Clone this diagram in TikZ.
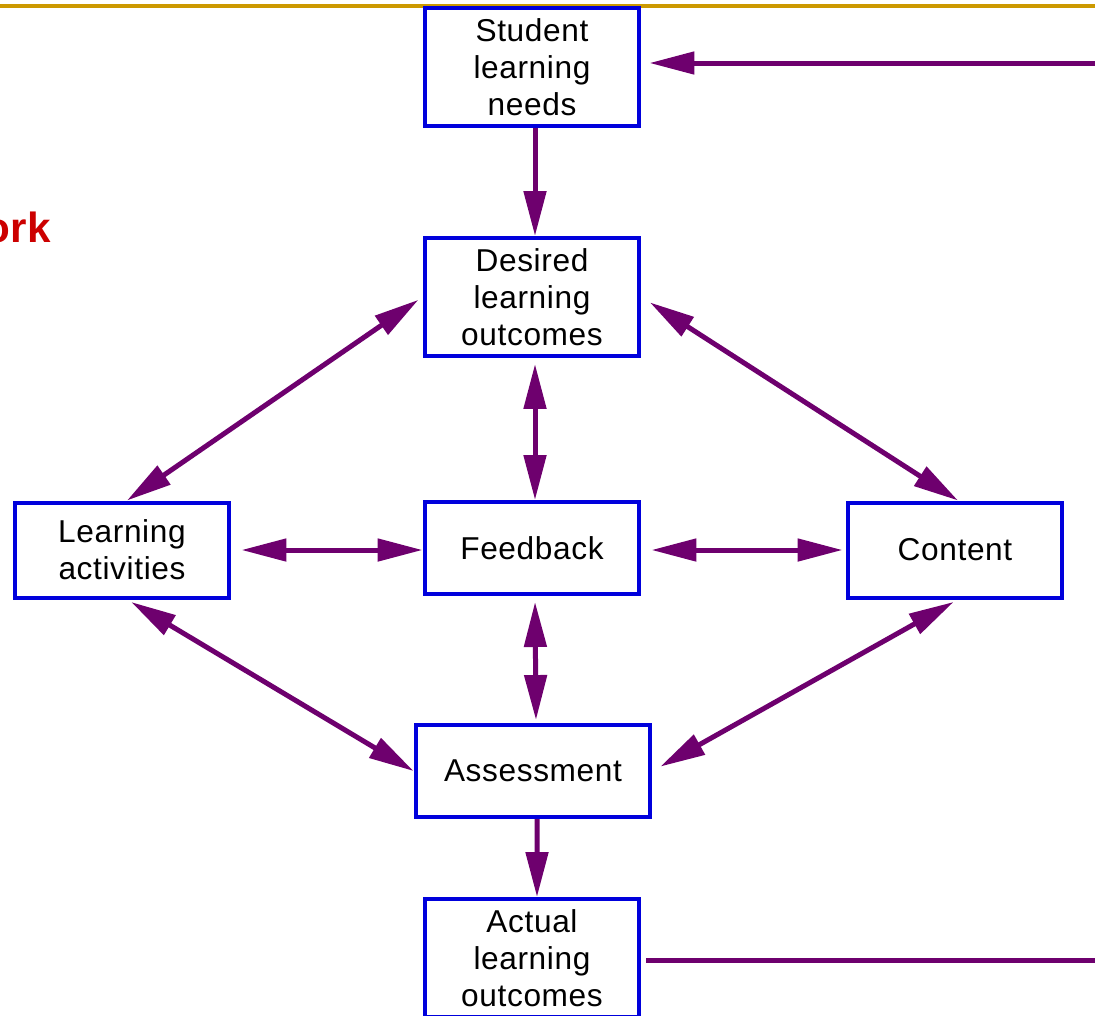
\documentclass[tikz,border=0pt]{standalone}
\usepackage{fontspec}
\setmainfont{Liberation Sans}
\newfontfamily\boxfont[LetterSpace=2]{Liberation Sans}
\usetikzlibrary{arrows.meta}
\definecolor{boxblue}{RGB}{0,0,220}
\definecolor{arrowpurple}{RGB}{110,0,110}
\definecolor{rulegold}{RGB}{204,153,0}
\definecolor{titlered}{RGB}{204,0,0}

\begin{document}
\begin{tikzpicture}[
    x=0.02cm, y=-0.02cm, % one unit is one pixel of the slide
    >={Triangle[length=0.9cm, width=0.44cm]}, % Arrow tip style
    line width=0.1cm, arrowpurple, % Line thickness and colour for arrows
    box/.style={draw=boxblue, line width=0.08cm, fill=white, text=black,
        align=center, inner sep=0pt, minimum width=4.3cm, minimum height=2.36cm,
        font=\boxfont\fontsize{18}{21}\selectfont}
]
\useasboundingbox (0,0) rectangle (1095,1015);

% Slide decoration
\draw[rulegold, line width=0.08cm] (0,6) -- (1095,6);
\node[anchor=base east, inner sep=0pt, text=titlered,
    font=\bfseries\fontsize{24}{28}\selectfont] (T) at (53,242) {ork};

% Define the nodes
\node[box] (S) at (532, 67) {Student\\learning\\needs};
\node[box] (D) at (532, 297) {Desired\\learning\\outcomes};
\node[box, minimum height=1.9cm] (L) at (122, 550) {Learning\\activities};
\node[box, minimum height=1.84cm] (F) at (532, 548) {Feedback};
\node[box, minimum height=1.9cm] (C) at (955, 550) {Content};
\node[box, minimum width=4.7cm, minimum height=1.84cm] (A) at (533, 771) {Assessment};
\node[box] (O) at (532, 958) {Actual\\learning\\outcomes};
\coordinate (inS) at (1095, 63);
\coordinate (outO) at (1095, 960);

% Define the connections
\draw (inS) edge[->, shorten >=0.16cm] (S.east |- inS);
\draw ([xshift=0.06cm]S.south) edge[->] ([xshift=0.06cm]D.north);
\draw (D.west) edge[<->, shorten <=0.1cm] ([xshift=0.1cm]L.north);
\draw ([xshift=0.06cm]D.south) edge[<->, shorten <=0.12cm] ([xshift=0.06cm]F.north);
\draw (D.east) edge[<->, shorten <=0.2cm] ([xshift=0.06cm]C.north);
\draw (L.east) edge[<->, shorten <=0.2cm] (F.west |- L.east);
\draw (F.east |- C.west) edge[<->, shorten <=0.2cm, shorten >=0.06cm] (C.west);
\draw ([xshift=0.1cm]L.south) edge[<->, shorten <=0.1cm] (A.west);
\draw ([xshift=0.06cm]F.south) edge[<->, shorten <=0.12cm, shorten >=0.06cm] ([xshift=0.06cm]A.north);
\draw ([xshift=0.06cm]C.south) edge[<->, shorten <=0.1cm, shorten >=0.18cm] (A.east);
\draw ([xshift=0.08cm]A.south) edge[->] ([xshift=0.1cm]O.north);
\draw (outO -| O.east) edge[shorten <=0.1cm] (outO);

\end{tikzpicture}
\end{document}
